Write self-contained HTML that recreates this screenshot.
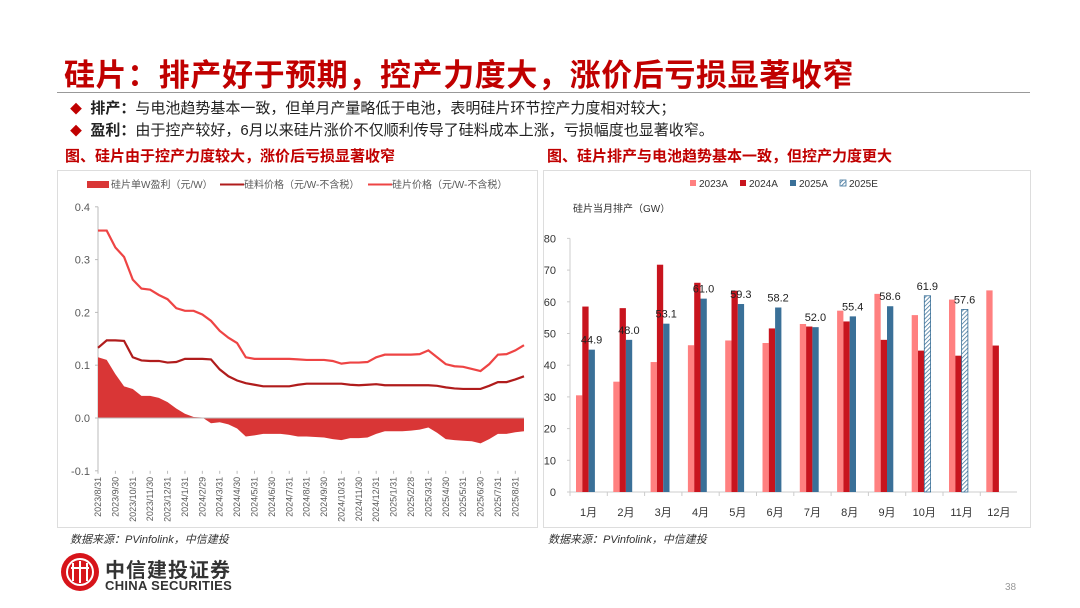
<!DOCTYPE html>
<html><head><meta charset="utf-8">
<style>
body{margin:0;width:1080px;height:608px;background:#fff;position:relative;overflow:hidden;font-family:"Liberation Sans","Noto Sans CJK SC",sans-serif;}
.abs{position:absolute;white-space:nowrap;}
</style></head><body>
<div class="abs" style="left:64px;top:50px;font-size:31px;font-weight:bold;color:#c00000;letter-spacing:0.6px;">硅片：排产好于预期，控产力度大，涨价后亏损显著收窄</div>
<div class="abs" style="left:57px;top:92px;width:973px;height:1px;background:#999;"></div>
<div class="abs" style="left:70px;top:97px;font-size:15px;color:#222;"><span style="color:#c00000;font-size:12px;">◆</span>&nbsp; <b>排产：</b>与电池趋势基本一致，但单月产量略低于电池，表明硅片环节控产力度相对较大；</div>
<div class="abs" style="left:70px;top:119px;font-size:15px;color:#222;"><span style="color:#c00000;font-size:12px;">◆</span>&nbsp; <b>盈利：</b>由于控产较好，6月以来硅片涨价不仅顺利传导了硅料成本上涨，亏损幅度也显著收窄。</div>
<div class="abs" style="left:65px;top:145px;font-size:15px;font-weight:bold;color:#c00000;">图、硅片由于控产力度较大，涨价后亏损显著收窄</div>
<div class="abs" style="left:547px;top:145px;font-size:15px;font-weight:bold;color:#c00000;">图、硅片排产与电池趋势基本一致，但控产力度更大</div>
<div class="abs" style="left:57px;top:170px;width:479px;height:356px;border:1px solid #ddd;"></div>
<div class="abs" style="left:543px;top:170px;width:486px;height:356px;border:1px solid #ddd;"></div>
<svg class="abs" id="left" style="left:0;top:0" width="1080" height="608"></svg>
<div class="abs" style="left:70px;top:531px;font-size:11px;font-style:italic;color:#333;">数据来源：PVinfolink，中信建投</div>
<div class="abs" style="left:548px;top:531px;font-size:11px;font-style:italic;color:#333;">数据来源：PVinfolink，中信建投</div>
<svg class="abs" style="left:60px;top:552px" width="42" height="42"><circle cx="20" cy="20" r="19" fill="#d7141a"/><circle cx="20" cy="20" r="13" fill="none" stroke="#fff" stroke-width="2"/><rect x="12" y="11" width="2" height="18" fill="#fff"/><rect x="19" y="9" width="2" height="22" fill="#fff"/><rect x="26" y="11" width="2" height="18" fill="#fff"/><rect x="11" y="15" width="18" height="2" fill="#fff"/></svg>
<div class="abs" style="left:105px;top:554px;font-size:20px;font-weight:bold;color:#333;letter-spacing:1px;">中信建投证券</div>
<div class="abs" style="left:105px;top:578px;font-size:13px;font-weight:bold;color:#333;letter-spacing:0.3px;">CHINA SECURITIES</div>
<div class="abs" style="left:1005px;top:582px;font-size:10px;color:#999;">38</div>
<script>
const profit=[0.115,0.11,0.083,0.06,0.055,0.042,0.042,0.038,0.03,0.018,0.008,0.002,0.001,-0.01,-0.008,-0.012,-0.02,-0.035,-0.033,-0.03,-0.03,-0.03,-0.032,-0.035,-0.035,-0.036,-0.037,-0.04,-0.042,-0.038,-0.038,-0.037,-0.03,-0.025,-0.025,-0.025,-0.024,-0.022,-0.018,-0.028,-0.04,-0.042,-0.043,-0.044,-0.048,-0.04,-0.03,-0.03,-0.027,-0.025];
const polyPrice=[0.133,0.147,0.147,0.146,0.115,0.109,0.108,0.108,0.105,0.106,0.112,0.112,0.112,0.111,0.092,0.079,0.071,0.066,0.063,0.06,0.06,0.06,0.06,0.063,0.065,0.065,0.065,0.065,0.065,0.063,0.062,0.063,0.064,0.062,0.062,0.062,0.062,0.062,0.062,0.061,0.058,0.056,0.055,0.055,0.055,0.061,0.068,0.068,0.073,0.079];
const waferPrice=[0.355,0.355,0.323,0.305,0.262,0.245,0.243,0.233,0.225,0.208,0.203,0.203,0.196,0.184,0.165,0.152,0.142,0.115,0.112,0.112,0.112,0.112,0.112,0.111,0.11,0.11,0.11,0.108,0.103,0.105,0.105,0.106,0.115,0.12,0.12,0.12,0.12,0.121,0.128,0.115,0.102,0.098,0.097,0.093,0.089,0.102,0.12,0.121,0.128,0.138];
const leftYTicks=[0.4,0.3,0.2,0.1,0.0,-0.1];
const dateLabels=["2023/8/31","2023/9/30","2023/10/31","2023/11/30","2023/12/31","2024/1/31","2024/2/29","2024/3/31","2024/4/30","2024/5/31","2024/6/30","2024/7/31","2024/8/31","2024/9/30","2024/10/31","2024/11/30","2024/12/31","2025/1/31","2025/2/28","2025/3/31","2025/4/30","2025/5/31","2025/6/30","2025/7/31","2025/8/31"];
const months=["1月","2月","3月","4月","5月","6月","7月","8月","9月","10月","11月","12月"];
const prod2023=[30.5,34.8,41,46.3,47.8,47,53,57.2,62.5,55.8,60.7,63.6];
const prod2024=[58.5,58,71.7,66,63.5,51.6,52.2,53.8,48,44.6,43,46.2];
const prod2025A=[44.9,48.0,53.1,61.0,59.3,58.2,52.0,55.4,58.6,null,null,null];
const prod2025E=[null,null,null,null,null,null,null,null,null,61.9,57.6,null];
const rightYTicks=[0,10,20,30,40,50,60,70,80];

const svg=document.getElementById('left');const NS='http://www.w3.org/2000/svg';
function mk(tag,attrs,name,parent){const e=document.createElementNS(NS,tag);for(const k in attrs)e.setAttribute(k,attrs[k]);


(parent||svg).appendChild(e);return e;}
function txt(x,y,s,name,attrs){const t=mk('text',Object.assign({x:x,y:y,'font-size':11,fill:'#595959','font-family':'Liberation Sans, Noto Sans CJK SC, sans-serif'},attrs||{}),name);t.textContent=s;return t;}
const lx=i=>98+i*(426/(profit.length-1));
const ly=v=>418-v*528;
mk('line',{x1:98,y1:ly(0.4),x2:98,y2:ly(-0.1),stroke:'#bbb'},'left-y-axis');
leftYTicks.forEach(v=>{mk('line',{x1:95,y1:ly(v),x2:98,y2:ly(v),stroke:'#bbb'},'left-y-tick');txt(90,ly(v)+4,v.toFixed(1),'left-y-tick-label',{'text-anchor':'end'});});
dateLabels.forEach((d,i)=>{const x=lx(i*2);mk('line',{x1:x,y1:ly(-0.1),x2:x,y2:ly(-0.1)+3,stroke:'#bbb'},'left-x-tick');txt(0,0,d,'left-x-tick-label',{'font-size':9,'text-anchor':'end',transform:`translate(${x+3},${ly(-0.1)+6}) rotate(-90)`});});
let a=`M${lx(0)},${ly(0)}`;profit.forEach((v,i)=>a+=`L${lx(i)},${ly(v)}`);a+=`L${lx(profit.length-1)},${ly(0)}Z`;
mk('path',{d:a,fill:'#d93636'},'profit-area');
mk('line',{x1:98,y1:ly(0),x2:524,y2:ly(0),stroke:'#bbb'},'left-zero-line');
function line(arr,col,name){mk('polyline',{points:arr.map((v,i)=>lx(i)+','+ly(v)).join(' '),fill:'none',stroke:col,'stroke-width':2.2},name);}
line(polyPrice,'#b01c1c','polysilicon-price-line');line(waferPrice,'#ee4444','wafer-price-line');
mk('rect',{x:87,y:181,width:22,height:7,fill:'#d93636'},'legend-profit-swatch');txt(111,188,'硅片单W盈利（元/W）','legend-profit',{'font-size':10});
mk('line',{x1:220,y1:184.5,x2:244,y2:184.5,stroke:'#b01c1c','stroke-width':2},'legend-poly-swatch');txt(244,188,'硅料价格（元/W-不含税）','legend-poly',{'font-size':10});
mk('line',{x1:368,y1:184.5,x2:392,y2:184.5,stroke:'#ee4444','stroke-width':2},'legend-wafer-swatch');txt(392,188,'硅片价格（元/W-不含税）','legend-wafer',{'font-size':10});
const defs=mk('defs',{},'defs');const pat=mk('pattern',{id:'hatch',width:3,height:3,patternUnits:'userSpaceOnUse',patternTransform:'rotate(45)'},'hatch-pattern',defs);
mk('rect',{width:3,height:3,fill:'#fff'},'hatch-bg',pat);mk('line',{x1:0,y1:0,x2:0,y2:3,stroke:'#3a7098','stroke-width':1.5},'hatch-line',pat);
const gx=i=>570+i*37.3;const ry=v=>492-v*3.17;const bw=6.3;
mk('line',{x1:570,y1:ry(0),x2:570,y2:ry(80),stroke:'#ccc'},'right-y-axis');
rightYTicks.forEach(v=>{mk('line',{x1:567,y1:ry(v),x2:570,y2:ry(v),stroke:'#ccc'},'right-y-tick');txt(556,ry(v)+4,String(v),'right-y-tick-label',{'text-anchor':'end',fill:'#333'});});
mk('line',{x1:570,y1:ry(0),x2:1017,y2:ry(0),stroke:'#ccc'},'right-x-axis');
months.forEach((m,i)=>{mk('line',{x1:gx(i),y1:ry(0),x2:gx(i),y2:ry(0)+4,stroke:'#ccc'},'right-x-tick');txt(gx(i)+18.6,ry(0)+24,m,'right-x-tick-label',{'text-anchor':'middle',fill:'#333'});
const s=gx(i)+6;
[[prod2023,'#ff8080','bar-2023'],[prod2024,'#c8141e','bar-2024'],[prod2025A,'#3a7098','bar-2025a'],[prod2025E,'url(#hatch)','bar-2025e']].forEach((sr,k)=>{const v=sr[0][i];if(v==null)return;const kk=k==3?2:k;
mk('rect',Object.assign({x:s+kk*bw,y:ry(v),width:bw,height:ry(0)-ry(v),fill:sr[1]},k==3?{stroke:'#3a7098','stroke-width':0.8}:{}),sr[2]);
if(k>=2)txt(s+kk*bw+3,ry(v)-6,v.toFixed(1),'bar-value-label',{'text-anchor':'middle',fill:'#222'});});});
[['#ff8080','2023A',690],['#c8141e','2024A',740],['#3a7098','2025A',790],['url(#hatch)','2025E',840]].forEach(l=>{mk('rect',{x:l[2],y:180,width:6,height:6,fill:l[0],stroke:l[1]=='2025E'?'#3a7098':'none','stroke-width':0.8},'legend-swatch-'+l[1]);txt(l[2]+9,187,l[1],'legend-'+l[1],{'font-size':10,fill:'#333'});});
txt(573,212,'硅片当月排产（GW）','right-y-axis-title',{'font-size':10,fill:'#333'});
</script>
</body></html>
